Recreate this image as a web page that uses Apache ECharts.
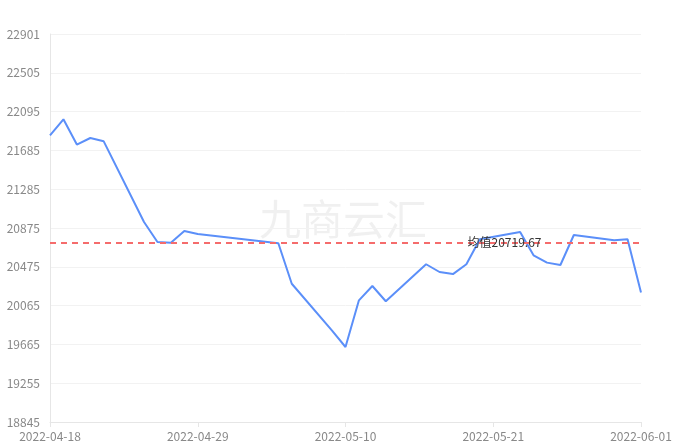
<!DOCTYPE html>
<html>
<head>
<meta charset="utf-8">
<script src="https://cdn.jsdelivr.net/npm/echarts@6/dist/echarts.min.js"></script>
<style>
html,body{margin:0;padding:0;background:#fff;}
#chart{width:677px;height:447px;}
</style>
</head>
<body>
<div id="chart"></div>
<script>
const categories = [
  '2022-04-18','2022-04-19','2022-04-20','2022-04-21','2022-04-22','2022-04-23','2022-04-24',
  '2022-04-25','2022-04-26','2022-04-27','2022-04-28','2022-04-29','2022-04-30','2022-05-01',
  '2022-05-02','2022-05-03','2022-05-04','2022-05-05','2022-05-06','2022-05-07','2022-05-08',
  '2022-05-09','2022-05-10','2022-05-11','2022-05-12','2022-05-13','2022-05-14','2022-05-15',
  '2022-05-16','2022-05-17','2022-05-18','2022-05-19','2022-05-20','2022-05-21','2022-05-22',
  '2022-05-23','2022-05-24','2022-05-25','2022-05-26','2022-05-27','2022-05-28','2022-05-29',
  '2022-05-30','2022-05-31','2022-06-01'
];
const priceValues = [
  21842, 22009, 21745, 21814, 21779, null, null,
  20936, 20727, 20718, 20842, 20810, null, null,
  null, null, null, 20713, 20290, null, null,
  19800, 19629, 20117, 20267, 20107, null, null,
  20494, 20413, 20391, 20494, 20755, null, null,
  20831, 20588, 20511, 20486, 20800, null, null,
  20744, 20755, 20198
];
const yTickLabels = ['18845','19255','19665','20065','20475','20875','21285','21685','22095','22505','22901'];
const yMin = 18845;
const yMax = 22901;
const averageValue = 20719.67;
const averageLabel = '均值20719.67';
const watermarkText = '九商云汇';

const yInterval = (yMax - yMin) / (yTickLabels.length - 1);
const fontFamily = '"Noto Sans CJK SC", "Noto Sans", sans-serif';

const chart = echarts.init(document.getElementById('chart'));
chart.setOption({
  animation: false,
  textStyle: { fontFamily: fontFamily },
  grid: { left: 50, right: 36, top: 34, bottom: 25, containLabel: false },
  graphic: [{
    type: 'text',
    left: 259,
    top: 198,
    silent: true,
    z: -1,
    style: {
      text: watermarkText,
      font: '42px "Noto Sans CJK SC", sans-serif',
      fill: 'rgba(0,0,0,0.06)'
    }
  }],
  xAxis: {
    type: 'category',
    data: categories,
    boundaryGap: false,
    axisLine: { lineStyle: { color: '#e6e6e6' } },
    axisTick: { show: true, interval: 10, lineStyle: { color: '#e6e6e6' } },
    axisLabel: { interval: 10, color: '#888', fontSize: 12, margin: 8 },
    splitLine: { show: false }
  },
  yAxis: {
    type: 'value',
    min: yMin,
    max: yMax,
    interval: yInterval,
    axisLine: { show: true, lineStyle: { color: '#e6e6e6' } },
    axisTick: { show: false },
    axisLabel: {
      color: '#888',
      fontSize: 12,
      margin: 10,
      formatter: function (v) {
        const i = Math.round((v - yMin) / yInterval);
        return yTickLabels[i] !== undefined ? yTickLabels[i] : '';
      }
    },
    splitLine: { show: true, lineStyle: { color: '#f2f2f2', width: 1 } }
  },
  series: [{
    type: 'line',
    data: priceValues,
    connectNulls: true,
    showSymbol: false,
    symbol: 'none',
    lineStyle: { color: '#5b8ff9', width: 2 },
    itemStyle: { color: '#5b8ff9' },
    markLine: {
      silent: true,
      symbol: ['none', 'none'],
      lineStyle: { color: '#f56c6c', type: [6, 5], width: 2 },
      label: {
        show: true,
        position: 'middle',
        distance: 0,
        verticalAlign: 'middle',
        color: '#333',
        fontSize: 12,
        padding: [4, 0, 0, 318],
        formatter: averageLabel
      },
      data: [{ yAxis: averageValue }]
    }
  }]
});
</script>
</body>
</html>
